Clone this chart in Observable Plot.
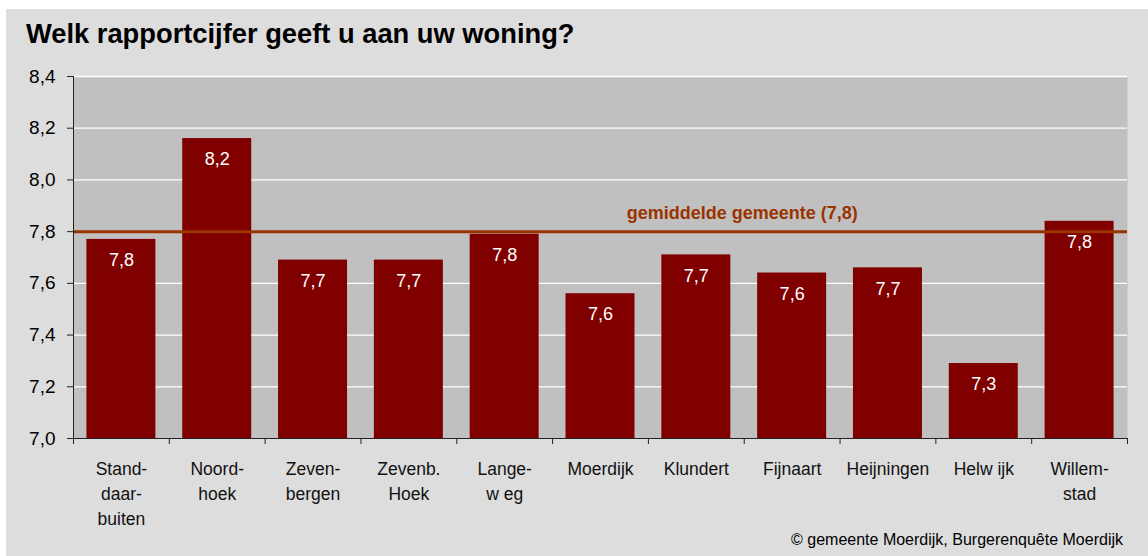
<!DOCTYPE html>
<html>
<head>
<meta charset="utf-8">
<script src="https://cdn.jsdelivr.net/npm/d3@7"></script>
<script src="https://cdn.jsdelivr.net/npm/@observablehq/plot@0.6"></script>
<style>
  body { margin: 0; background: #ffffff; font-family: "Liberation Sans", Arial, sans-serif; }
  #frame { position: absolute; left: 6px; top: 9px; width: 1142px; height: 547px; background: #dddddd; }
  #title { position: absolute; left: 26px; top: 20px; font-size: 27.3px; line-height: 27.3px; font-weight: bold; color: #000; white-space: nowrap; }
  #chart { position: absolute; left: 0; top: 0; }
  #caption { position: absolute; right: 25px; top: 532px; font-size: 16px; line-height: 16px; color: #000; white-space: nowrap; }
</style>
</head>
<body>
<div id="frame"></div>
<div id="title"></div>
<div id="chart"></div>
<div id="caption"></div>
<script>
const titleText = "Welk rapportcijfer geeft u aan uw woning?";
const captionText = "© gemeente Moerdijk, Burgerenquête Moerdijk";
const categories = ["Standdaarbuiten", "Noordhoek", "Zevenbergen", "Zevenb. Hoek", "Langeweg", "Moerdijk", "Klundert", "Fijnaart", "Heijningen", "Helwijk", "Willemstad"];
const tickLabels = ["Stand-\ndaar-\nbuiten", "Noord-\nhoek", "Zeven-\nbergen", "Zevenb.\nHoek", "Lange-\nw eg", "Moerdijk", "Klundert", "Fijnaart", "Heijningen", "Helw ijk", "Willem-\nstad"];
const values = [7.77, 8.16, 7.69, 7.69, 7.79, 7.56, 7.71, 7.64, 7.66, 7.29, 7.84];
const average = 7.8;
const averageLabel = "gemiddelde gemeente (7,8)";
const yTicks = [7.0, 7.2, 7.4, 7.6, 7.8, 8.0, 8.2, 8.4];

document.getElementById("title").textContent = titleText;
document.getElementById("caption").textContent = captionText;

const comma = d => d.toFixed(1).replace(".", ",");
const base = yTicks[0];
const data = categories.map((c, i) => ({cat: c, label: tickLabels[i], value: values[i], base}));

const W = 1148, H = 530, ML = 73, MR = 21, MT = 76, MB = 92;
const step = (W - ML - MR) / categories.length;

const chart = Plot.plot({
  width: W, height: H,
  marginTop: MT, marginBottom: MB, marginLeft: ML, marginRight: MR,
  style: {background: "transparent", fontFamily: "'Liberation Sans', Arial, sans-serif", color: "#000", overflow: "visible"},
  x: {domain: categories, paddingInner: 0.28, paddingOuter: 0.14, round: false, axis: null},
  y: {domain: [yTicks[0], yTicks[yTicks.length - 1]], axis: null},
  marks: [
    Plot.frame({fill: "#c0c0c0", stroke: "none"}),
    Plot.ruleY(yTicks.slice(1), {stroke: "#ffffff", strokeWidth: 1.3}),
    Plot.barY(data, {x: "cat", y1: "base", y2: "value", fill: "#800000"}),
    Plot.ruleY([average], {stroke: "#993300", strokeWidth: 3}),
    Plot.text([{cat: "Klundert", y: average, label: averageLabel}], {x: "cat", y: "y", text: "label", dx: step / 2 - 2, dy: -13, lineAnchor: "bottom", fontWeight: "bold", fontSize: 18, fill: "#993300"}),
    Plot.text(data, {x: "cat", y: "value", text: d => comma(d.value), lineAnchor: "top", dy: 14, fill: "#ffffff", fontSize: 18}),
    Plot.text(data, {x: "cat", text: "label", frameAnchor: "bottom", lineAnchor: "top", dy: 19, lineHeight: 1.42, fontSize: 17.5, fill: "#111"}),
    Plot.axisY({ticks: yTicks, tickFormat: comma, tickSize: 6, tickPadding: 12, fontSize: 19, stroke: "#222"}),
    Plot.ruleY([base], {stroke: "#222"}),
    Plot.frame({anchor: "left", stroke: "#222"}),
    Plot.ruleX(data, {x: "cat", y1: "base", y2: "base", dx: -step / 2, insetBottom: -6, stroke: "#222"}),
    Plot.ruleX(data.slice(-1), {x: "cat", y1: "base", y2: "base", dx: step / 2, insetBottom: -6, stroke: "#222"})
  ]
});
document.getElementById("chart").appendChild(chart);
</script>
</body>
</html>
